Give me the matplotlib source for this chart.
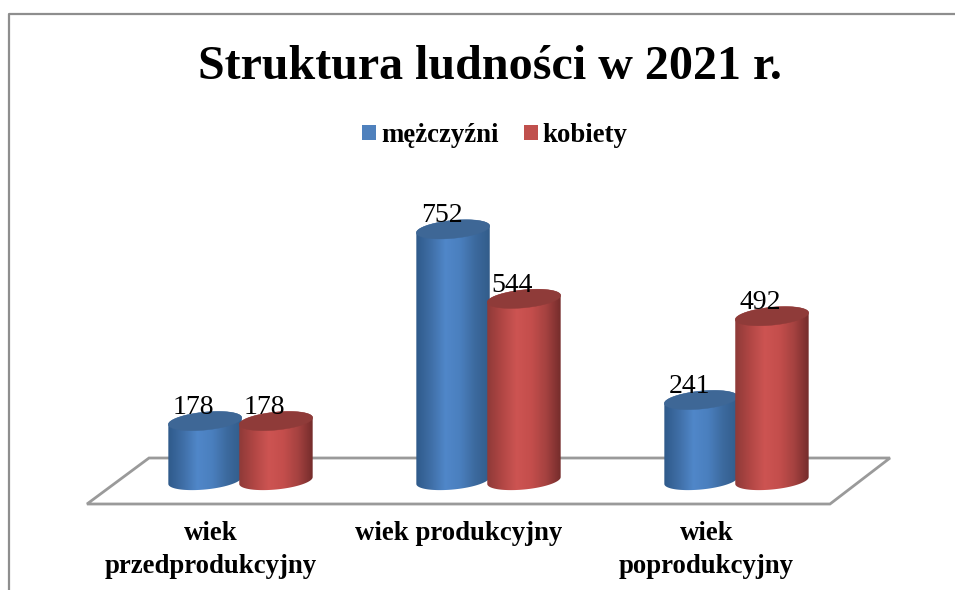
import numpy as np
import matplotlib
matplotlib.use('Agg')
import matplotlib.pyplot as plt
from matplotlib.colors import LinearSegmentedColormap
from matplotlib.patches import Patch, Polygon

# Dane
kategorie = ['wiek\nprzedprodukcyjny', 'wiek produkcyjny', 'wiek\npoprodukcyjny']
mezczyzni = [178, 752, 241]
kobiety = [178, 544, 492]
tytul = 'Struktura ludności w 2021 r.'

plt.rcParams['font.family'] = ['Liberation Serif', 'DejaVu Serif']

W, H = 955, 590
fig = plt.figure(figsize=(W / 100, H / 100), dpi=100, facecolor='white')
ax = fig.add_axes([0, 0, 1, 1])

# skala: 248 px na kategorie, 0.334 px na osobe, zero na y=480.5 px
PX_X = 248
PX_Y = 0.334
ZERO = 480.5
ax.set_xlim(-240.5 / PX_X, (W - 240.5) / PX_X)
ax.set_ylim(-(H - ZERO) / PX_Y, ZERO / PX_Y)
ax.axis('off')

# ramka wykresu i podloga (we wspolrzednych figury)
szary = '#8e8e8e'
def px(x, y):
    return x / W, 1 - y / H

ax.plot(*zip(px(9, 590), px(9, 14), px(955, 14)), transform=ax.transAxes,
        color=szary, lw=1.6, clip_on=False)
ax.add_patch(Polygon([px(87, 504), px(149, 458), px(890, 458), px(830, 504)], closed=True,
                     transform=ax.transAxes, fc='white', ec='#9a9a9a', lw=2.0, zorder=1))

szer = 0.296
a = szer / 2
b = 9.0 / PX_Y
s = 3.4 / PX_Y
t = np.linspace(0, 2 * np.pi, 121)


def elipsa(xc, yc, tt):
    return xc + a * np.cos(tt), yc + b * np.sin(tt) + s * np.cos(tt)


def walec(xc, wartosc, kolory, kolor_gory, z):
    cmap = LinearSegmentedColormap.from_list('w', kolory)
    grad = np.linspace(0, 1, 256).reshape(1, -1)
    # bok walca
    tg = np.linspace(0, np.pi, 60)
    xg, yg = elipsa(xc, wartosc, tg)
    xd, yd = elipsa(xc, 0, np.linspace(np.pi, 2 * np.pi, 60))
    pts = np.column_stack([np.r_[xg, xd], np.r_[yg, yd]])
    bok = Polygon(pts, closed=True, transform=ax.transData, fc='none', ec='none')
    ax.add_patch(bok)
    im = ax.imshow(grad, cmap=cmap, aspect='auto', zorder=z, interpolation='bilinear',
                   extent=[xc - a, xc + a, -b - s - 5, wartosc + b + s + 5])
    im.set_clip_path(bok)
    # gorna podstawa
    xe, ye = elipsa(xc, wartosc, t)
    ax.add_patch(Polygon(np.column_stack([xe, ye]), closed=True, fc=kolor_gory, ec=kolor_gory,
                         lw=0.3, zorder=z + 0.1))
    # etykieta wartosci
    ax.annotate(str(wartosc), (xc, wartosc), xytext=(-11.5, 7), textcoords='offset pixels',
                ha='center', va='baseline', fontsize=20, color='black', zorder=20)


niebieski = ['#2f5a8a', '#3f6ea6', '#5087c9', '#4a7fbe', '#3c6a9e', '#325c8a']
czerwony = ['#8e3a38', '#b04644', '#cd5452', '#c44e4c', '#a54240', '#742c2b']
gora_n = '#3e6796'
gora_c = '#8f3b39'

for i in range(len(kategorie)):
    walec(i - 0.143, mezczyzni[i], niebieski, gora_n, 3 + i)
    walec(i + 0.143, kobiety[i], czerwony, gora_c, 3.5 + i)
    ax.annotate(kategorie[i], (i, 0), xytext=(-30, -41), textcoords='offset pixels', ha='center',
                va='top', fontsize=19.3, fontweight='bold', linespacing=1.4, zorder=20)

ax.set_xlim(-240.5 / PX_X, (W - 240.5) / PX_X)
ax.set_ylim(-(H - ZERO) / PX_Y, ZERO / PX_Y)

ax.text(490 / W, 1 - 79 / H, tytul, transform=ax.transAxes, ha='center', va='baseline',
        fontsize=34.6, fontweight='bold', color='black')

uchwyty = [Patch(fc='#4f81bd', label='mężczyźni'), Patch(fc='#c0504d', label='kobiety')]
ax.legend(handles=uchwyty, loc='center', bbox_to_anchor=(495 / W, 1 - 135.5 / H), ncol=2, frameon=False,
          prop={'size': 19.3, 'weight': 'bold'}, handlelength=0.52, handleheight=0.52,
          handletextpad=0.19, columnspacing=0.93, borderpad=0, borderaxespad=0)

fig.savefig('out.png', dpi=100)
